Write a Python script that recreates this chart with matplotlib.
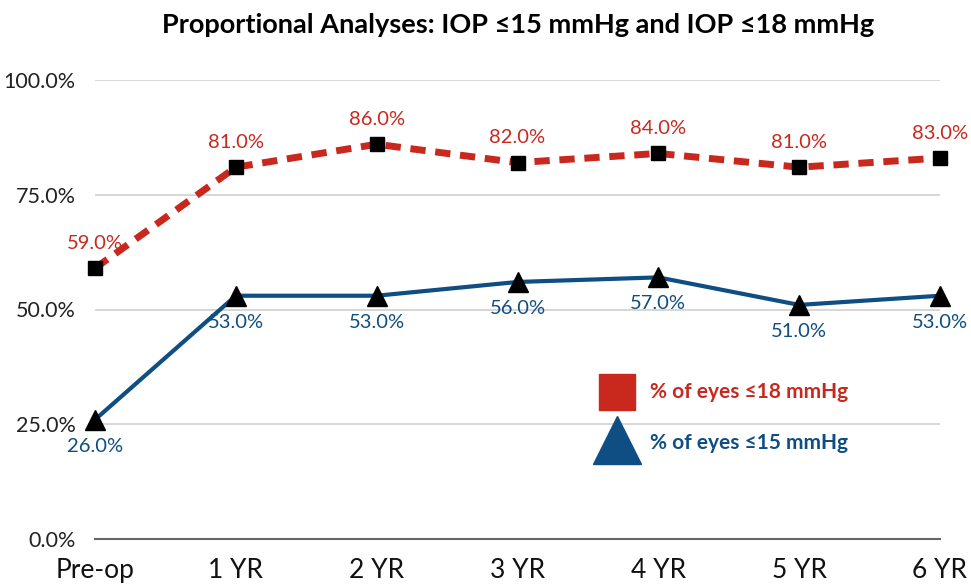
import numpy as np
import matplotlib.pyplot as plt
from matplotlib.lines import Line2D

# data
periods = ['Pre-op', '1 YR', '2 YR', '3 YR', '4 YR', '5 YR', '6 YR']
eyes_18 = [59.0, 81.0, 86.0, 82.0, 84.0, 81.0, 83.0]
eyes_15 = [26.0, 53.0, 53.0, 56.0, 57.0, 51.0, 53.0]
yticks = [0, 25, 50, 75, 100]

red = '#c8281e'
blue = '#0f4e82'
plt.rcParams['font.family'] = ['Lato', 'DejaVu Sans']

fig = plt.figure(figsize=(9.71, 5.88), dpi=100)
ax = fig.add_axes([95/971, 1-539/588, 845/971, 459/588])
x = np.arange(len(periods))

ax.plot(x, eyes_18, color=red, lw=5, ls=(0, (2.2, 1.4)), zorder=3)
ax.plot(x, eyes_18, ls='none', marker='s', ms=10, color='black', zorder=4)
ax.plot(x, eyes_15, color=blue, lw=3, zorder=3)
ax.plot(x, eyes_15, ls='none', marker='^', ms=14, color='black', zorder=4)

for xi, v in zip(x, eyes_18):
    ax.annotate('%.1f%%' % v, (xi, v), xytext=(0, 18), textcoords='offset points',
                ha='center', va='center', color=red, fontsize=14.5)
for xi, v in zip(x, eyes_15):
    ax.annotate('%.1f%%' % v, (xi, v), xytext=(0, -19), textcoords='offset points',
                ha='center', va='center', color=blue, fontsize=14.5)

ax.set_xlim(0, 6)
ax.set_ylim(0, 100)
ax.set_yticks(yticks)
ax.set_yticklabels(['%.1f%%' % t for t in yticks], fontsize=15.5, color='#222222')
ax.set_xticks(x)
ax.set_xticklabels(periods, fontsize=19, color='#111111')
ax.tick_params(length=0)
ax.tick_params(axis='y', pad=14)
ax.tick_params(axis='x', pad=14)
ax.grid(axis='y', color='#d0d0d0', lw=1.2)
ax.set_axisbelow(True)
for s in ['top', 'right', 'left']:
    ax.spines[s].set_visible(False)
ax.spines['bottom'].set_color('#666666')
ax.spines['bottom'].set_linewidth(1.5)
for art in ax.lines:
    art.set_clip_on(False)

# legend drawn as text and markers
fig.add_artist(Line2D([617/971], [1-392/588], marker='s', ms=26, color=red, ls='none'))
fig.add_artist(Line2D([617/971], [1-440/588], marker='^', ms=34, color=blue, ls='none'))
fig.text(650/971, 1-392/588, '% of eyes \u226418 mmHg', color=red, fontsize=15,
         fontweight='bold', va='center')
fig.text(650/971, 1-443/588, '% of eyes \u226415 mmHg', color=blue, fontsize=15,
         fontweight='bold', va='center')

fig.text(518/971, 1-25/588, 'Proportional Analyses: IOP \u226415 mmHg and IOP \u226418 mmHg',
         ha='center', va='center', fontsize=19.5, fontweight='bold')

fig.savefig('out.png', dpi=100)
